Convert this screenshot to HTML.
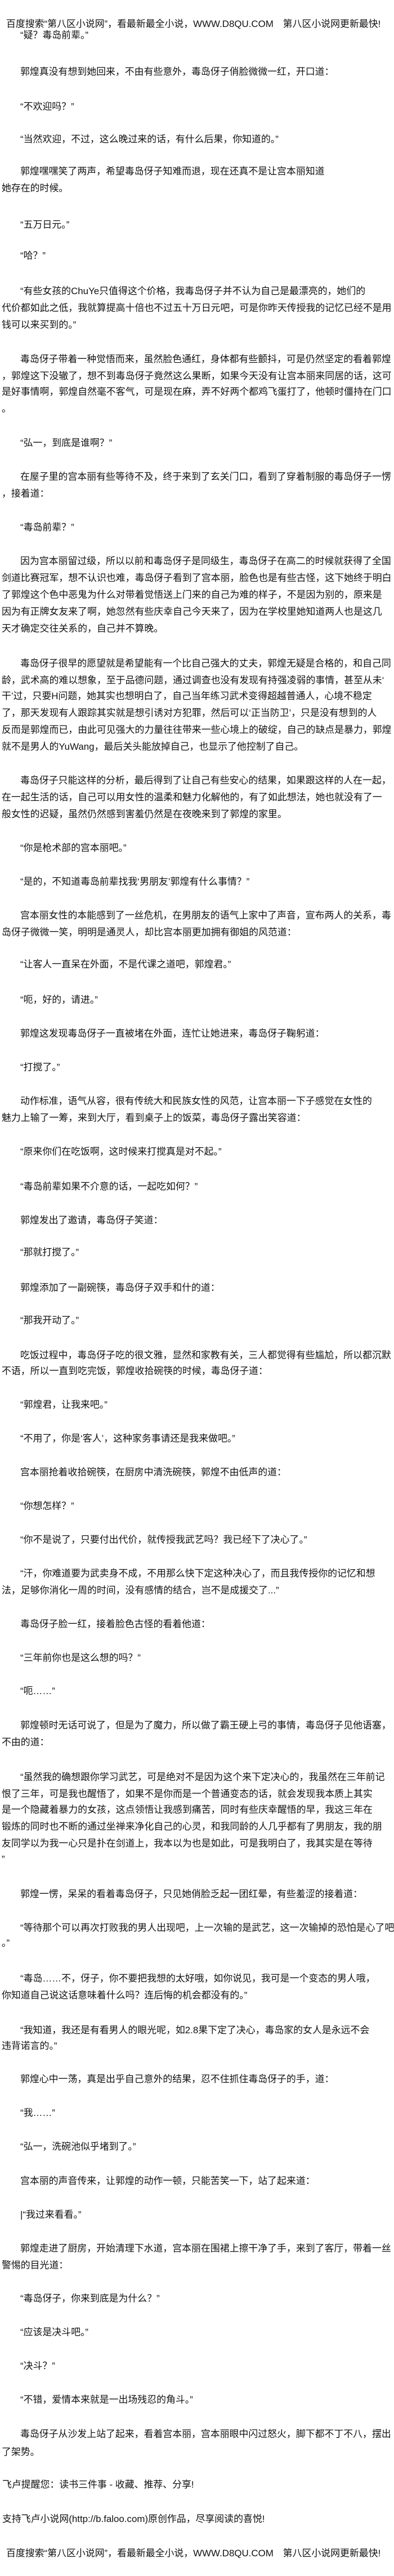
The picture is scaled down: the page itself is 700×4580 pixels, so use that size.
<!DOCTYPE html>
<html><head><meta charset="utf-8"><style>
html,body{margin:0;padding:0;background:#fff;}
body{width:700px;height:4580px;position:relative;overflow:hidden;font-family:"Liberation Sans","Noto Sans CJK SC",sans-serif;font-size:16.9px;color:#111;}
div.l{position:absolute;height:30px;line-height:30px;white-space:nowrap;}
.p{left:36px}.c{left:3px}.h{left:11px}.f{left:4px}
</style></head><body>
<div class="l h" style="top:28px">百度搜索“第八区小说网”，看最新最全小说，WWW.D8QU.COM　第八区小说网更新最快!</div>
<div class="l p" style="top:48px">“疑？毒岛前辈。”</div>
<div class="l p" style="top:113px">郭煌真没有想到她回来，不由有些意外，毒岛伢子俏脸微微一红，开口道：</div>
<div class="l p" style="top:175px">“不欢迎吗？”</div>
<div class="l p" style="top:233px">“当然欢迎，不过，这么晚过来的话，有什么后果，你知道的。”</div>
<div class="l p" style="top:290px">郭煌嘿嘿笑了两声，希望毒岛伢子知难而退，现在还真不是让宫本丽知道</div>
<div class="l c" style="top:320px">她存在的时候。</div>
<div class="l p" style="top:385px">“五万日元。”</div>
<div class="l p" style="top:440px">“哈？”</div>
<div class="l p" style="top:503px">“有些女孩的ChuYe只值得这个价格，我毒岛伢子并不认为自己是最漂亮的，她们的</div>
<div class="l c" style="top:533px">代价都如此之低，我就算提高十倍也不过五十万日元吧，可是你昨天传授我的记忆已经不是用</div>
<div class="l c" style="top:563px">钱可以来买到的。”</div>
<div class="l p" style="top:624px">毒岛伢子带着一种觉悟而来，虽然脸色通红，身体都有些颤抖，可是仍然坚定的看着郭煌</div>
<div class="l c" style="top:654px">，郭煌这下没辙了，想不到毒岛伢子竟然这么果断，如果今天没有让宫本丽来同居的话，这可</div>
<div class="l c" style="top:682px">是好事情啊，郭煌自然毫不客气，可是现在麻，弄不好两个都鸡飞蛋打了，他顿时僵持在门口</div>
<div class="l c" style="top:712px">。</div>
<div class="l p" style="top:773px">“弘一，到底是谁啊？”</div>
<div class="l p" style="top:833px">在屋子里的宫本丽有些等待不及，终于来到了玄关门口，看到了穿着制服的毒岛伢子一愣</div>
<div class="l c" style="top:863px">，接着道：</div>
<div class="l p" style="top:923px">“毒岛前辈？”</div>
<div class="l p" style="top:983px">因为宫本丽留过级，所以以前和毒岛伢子是同级生，毒岛伢子在高二的时候就获得了全国</div>
<div class="l c" style="top:1013px">剑道比赛冠军，想不认识也难，毒岛伢子看到了宫本丽，脸色也是有些古怪，这下她终于明白</div>
<div class="l c" style="top:1043px">了郭煌这个色中恶鬼为什么对带着觉悟送上门来的自己为难的样子，不是因为别的，原来是</div>
<div class="l c" style="top:1073px">因为有正牌女友来了啊，她忽然有些庆幸自己今天来了，因为在学校里她知道两人也是这几</div>
<div class="l c" style="top:1103px">天才确定交往关系的，自己并不算晚。</div>
<div class="l p" style="top:1165px">毒岛伢子很早的愿望就是希望能有一个比自己强大的丈夫，郭煌无疑是合格的，和自己同</div>
<div class="l c" style="top:1195px">龄，武术高的难以想象，至于品德问题，通过调查也没有发现有持强凌弱的事情，甚至从未‘</div>
<div class="l c" style="top:1223px">干’过，只要H问题，她其实也想明白了，自己当年练习武术变得超越普通人，心境不稳定</div>
<div class="l c" style="top:1253px">了，那天发现有人跟踪其实就是想引诱对方犯罪，然后可以‘正当防卫’，只是没有想到的人</div>
<div class="l c" style="top:1283px">反而是郭煌而已，由此可见强大的力量往往带来一些心境上的破绽，自己的缺点是暴力，郭煌</div>
<div class="l c" style="top:1313px">就不是男人的YuWang，最后关头能放掉自己，也显示了他控制了自己。</div>
<div class="l p" style="top:1373px">毒岛伢子只能这样的分析，最后得到了让自己有些安心的结果，如果跟这样的人在一起，</div>
<div class="l c" style="top:1403px">在一起生活的话，自己可以用女性的温柔和魅力化解他的，有了如此想法，她也就没有了一</div>
<div class="l c" style="top:1433px">般女性的迟疑，虽然仍然感到害羞仍然是在夜晚来到了郭煌的家里。</div>
<div class="l p" style="top:1493px">“你是枪术部的宫本丽吧。”</div>
<div class="l p" style="top:1553px">“是的，不知道毒岛前辈找我‘男朋友’郭煌有什么事情？”</div>
<div class="l p" style="top:1613px">宫本丽女性的本能感到了一丝危机，在男朋友的语气上家中了声音，宣布两人的关系，毒</div>
<div class="l c" style="top:1643px">岛伢子微微一笑，明明是通灵人，却比宫本丽更加拥有御姐的风范道：</div>
<div class="l p" style="top:1700px">“让客人一直呆在外面，不是代课之道吧，郭煌君。”</div>
<div class="l p" style="top:1763px">“呃，好的，请进。”</div>
<div class="l p" style="top:1823px">郭煌这发现毒岛伢子一直被堵在外面，连忙让她进来，毒岛伢子鞠躬道：</div>
<div class="l p" style="top:1883px">“打搅了。”</div>
<div class="l p" style="top:1943px">动作标准，语气从容，很有传统大和民族女性的风范，让宫本丽一下子感觉在女性的</div>
<div class="l c" style="top:1973px">魅力上输了一筹，来到大厅，看到桌子上的饭菜，毒岛伢子露出笑容道：</div>
<div class="l p" style="top:2033px">“原来你们在吃饭啊，这时候来打搅真是对不起。”</div>
<div class="l p" style="top:2095px">“毒岛前辈如果不介意的话，一起吃如何？”</div>
<div class="l p" style="top:2155px">郭煌发出了邀请，毒岛伢子笑道：</div>
<div class="l p" style="top:2212px">“那就打搅了。”</div>
<div class="l p" style="top:2275px">郭煌添加了一副碗筷，毒岛伢子双手和什的道：</div>
<div class="l p" style="top:2333px">“那我开动了。”</div>
<div class="l p" style="top:2395px">吃饭过程中，毒岛伢子吃的很文雅，显然和家教有关，三人都觉得有些尴尬，所以都沉默</div>
<div class="l c" style="top:2423px">不语，所以一直到吃完饭，郭煌收拾碗筷的时候，毒岛伢子道：</div>
<div class="l p" style="top:2483px">“郭煌君，让我来吧。”</div>
<div class="l p" style="top:2543px">“不用了，你是‘客人’，这种家务事请还是我来做吧。”</div>
<div class="l p" style="top:2603px">宫本丽抢着收拾碗筷，在厨房中清洗碗筷，郭煌不由低声的道：</div>
<div class="l p" style="top:2663px">“你想怎样？”</div>
<div class="l p" style="top:2723px">“你不是说了，只要付出代价，就传授我武艺吗？我已经下了决心了。”</div>
<div class="l p" style="top:2783px">“汗，你难道要为武卖身不成，不用那么快下定这种决心了，而且我传授你的记忆和想</div>
<div class="l c" style="top:2813px">法，足够你消化一周的时间，没有感情的结合，岂不是成援交了...”</div>
<div class="l p" style="top:2873px">毒岛伢子脸一红，接着脸色古怪的看着他道：</div>
<div class="l p" style="top:2933px">“三年前你也是这么想的吗？”</div>
<div class="l p" style="top:2992px">“呃……”</div>
<div class="l p" style="top:3053px">郭煌顿时无话可说了，但是为了魔力，所以做了霸王硬上弓的事情，毒岛伢子见他语塞，</div>
<div class="l c" style="top:3083px">不由的道：</div>
<div class="l p" style="top:3145px">“虽然我的确想跟你学习武艺，可是绝对不是因为这个来下定决心的，我虽然在三年前记</div>
<div class="l c" style="top:3175px">恨了三年，可是我也醒悟了，如果不是你而是一个普通变态的话，就会发现我本质上其实</div>
<div class="l c" style="top:3203px">是一个隐藏着暴力的女孩，这点领悟让我感到痛苦，同时有些庆幸醒悟的早，我这三年在</div>
<div class="l c" style="top:3233px">锻炼的同时也不断的通过坐禅来净化自己的心灵，和我同龄的人几乎都有了男朋友，我的朋</div>
<div class="l c" style="top:3263px">友同学以为我一心只是扑在剑道上，我本以为也是如此，可是我明白了，我其实是在等待</div>
<div class="l c" style="top:3291px">”</div>
<div class="l p" style="top:3353px">郭煌一愣，呆呆的看着毒岛伢子，只见她俏脸乏起一团红晕，有些羞涩的接着道：</div>
<div class="l p" style="top:3413px">“等待那个可以再次打败我的男人出现吧，上一次输的是武艺，这一次输掉的恐怕是心了吧</div>
<div class="l c" style="top:3440px">。”</div>
<div class="l p" style="top:3503px">“毒岛……不，伢子，你不要把我想的太好哦，如你说见，我可是一个变态的男人哦，</div>
<div class="l c" style="top:3533px">你知道自己说这话意味着什么吗？连后悔的机会都没有的。”</div>
<div class="l p" style="top:3595px">“我知道，我还是有看男人的眼光呢，如2.8果下定了决心，毒岛家的女人是永远不会</div>
<div class="l c" style="top:3623px">违背诺言的。”</div>
<div class="l p" style="top:3682px">郭煌心中一荡，真是出乎自己意外的结果，忍不住抓住毒岛伢子的手，道：</div>
<div class="l p" style="top:3742px">“我……”</div>
<div class="l p" style="top:3802px">“弘一，洗碗池似乎堵到了。”</div>
<div class="l p" style="top:3863px">宫本丽的声音传来，让郭煌的动作一顿，只能苦笑一下，站了起来道：</div>
<div class="l p" style="top:3923px">|“我过来看看。”</div>
<div class="l p" style="top:3983px">郭煌走进了厨房，开始清理下水道，宫本丽在围裙上擦干净了手，来到了客厅，带着一丝</div>
<div class="l c" style="top:4013px">警惕的目光道：</div>
<div class="l p" style="top:4072px">“毒岛伢子，你来到底是为什么？”</div>
<div class="l p" style="top:4132px">“应该是决斗吧。”</div>
<div class="l p" style="top:4192px">“决斗？”</div>
<div class="l p" style="top:4252px">“不错，爱情本来就是一出场残忍的角斗。”</div>
<div class="l p" style="top:4313px">毒岛伢子从沙发上站了起来，看着宫本丽，宫本丽眼中闪过怒火，脚下都不丁不八，摆出</div>
<div class="l c" style="top:4345px">了架势。</div>
<div class="l f" style="top:4403px">飞卢提醒您：读书三件事 - 收藏、推荐、分享!</div>
<div class="l f" style="top:4464px">支持飞卢小说网(http://b.faloo.com)原创作品，尽享阅读的喜悦!</div>
<div class="l h" style="top:4525px">百度搜索“第八区小说网”，看最新最全小说，WWW.D8QU.COM　第八区小说网更新最快!</div>
</body></html>
